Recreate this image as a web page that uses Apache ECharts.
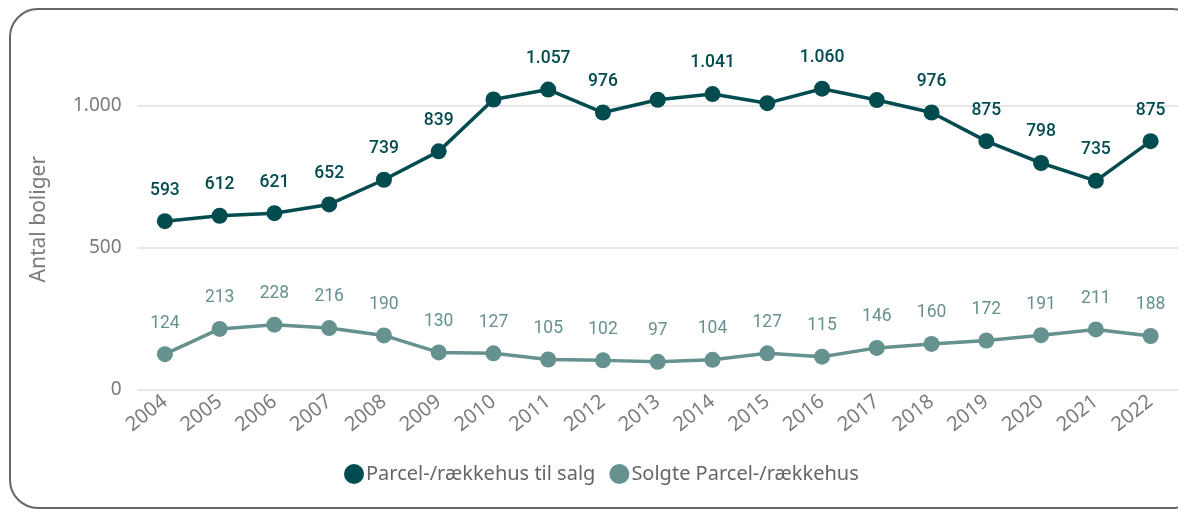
<!DOCTYPE html>
<html>
<head>
<meta charset="utf-8">
<script src="https://cdn.jsdelivr.net/npm/echarts@6/dist/echarts.min.js"></script>
<style>
html,body{margin:0;padding:0;background:#fff;}
#chart{width:1178px;height:510px;}
</style>
</head>
<body>
<div id="chart"></div>
<script>
const years = ['2004','2005','2006','2007','2008','2009','2010','2011','2012','2013','2014','2015','2016','2017','2018','2019','2020','2021','2022'];
const forSale = [593,612,621,652,739,839,1022,1057,976,1021,1041,1009,1060,1020,976,875,798,735,875];
const sold = [124,213,228,216,190,130,127,105,102,97,104,127,115,146,160,172,191,211,188];
// years whose "til salg" value is shown with a label
const labelledForSale = ['2004','2005','2006','2007','2008','2009','2011','2012','2014','2016','2018','2019','2020','2021','2022'];
const yTicks = [0, 500, 1000];

const fmt = v => v.toLocaleString('da-DK');
const darkColor = '#024c50';
const lightColor = '#65918f';
const axisGray = '#7b7b7b';

const chart = echarts.init(document.getElementById('chart'));
chart.setOption({
  animation: false,
  graphic: [{
    type: 'rect',
    shape: {x: 10, y: 9, width: 1190, height: 499, r: 28},
    style: {fill: 'none', stroke: '#666666', lineWidth: 2},
    z: 0
  }],
  grid: {left: 137.5, right: -6.3, top: 49, bottom: 120.7, containLabel: false},
  legend: {
    left: 339, top: 459,
    icon: 'circle', itemWidth: 20, itemHeight: 20, itemGap: 14,
    textStyle: {fontFamily: 'Noto Sans', fontSize: 20, color: '#666666', padding: [0,0,0,-3]},
    data: ['Parcel-/rækkehus til salg', 'Solgte Parcel-/rækkehus']
  },
  xAxis: {
    type: 'category', data: years, boundaryGap: true,
    axisLine: {show: false}, axisTick: {show: false},
    axisLabel: {rotate: 38, margin: 10, fontFamily: 'Noto Sans', fontSize: 20, color: axisGray, interval: 0}
  },
  yAxis: {
    type: 'value', min: 0, max: 1200, interval: 500,
    name: 'Antal boliger', nameLocation: 'middle', nameGap: 88, nameRotate: 90,
    nameTextStyle: {fontFamily: 'Noto Sans', fontSize: 21, color: axisGray},
    axisLabel: {showMaxLabel: false, margin: 16, fontFamily: 'Noto Sans', fontSize: 19, color: axisGray,
      formatter: v => yTicks.includes(v) ? fmt(v) : ''},
    splitLine: {showMaxLine: false, lineStyle: {color: '#e8e8e8', width: 2}},
    axisLine: {show: false}, axisTick: {show: false}
  },
  series: [{
    name: 'Parcel-/rækkehus til salg', type: 'line',
    data: forSale, symbol: 'circle', symbolSize: 16,
    itemStyle: {color: darkColor}, lineStyle: {color: darkColor, width: 3.5},
    label: {show: true, position: 'top', distance: 14, fontFamily: 'Roboto', fontWeight: 500, fontSize: 17.5, color: darkColor,
      formatter: p => labelledForSale.includes(p.name) ? fmt(p.value) : ''}
  }, {
    name: 'Solgte Parcel-/rækkehus', type: 'line',
    data: sold, symbol: 'circle', symbolSize: 16,
    itemStyle: {color: lightColor}, lineStyle: {color: lightColor, width: 3.5},
    label: {show: true, position: 'top', distance: 14, fontFamily: 'Roboto', fontWeight: 400, fontSize: 17.5, color: lightColor,
      formatter: p => fmt(p.value)}
  }]
});
</script>
</body>
</html>
